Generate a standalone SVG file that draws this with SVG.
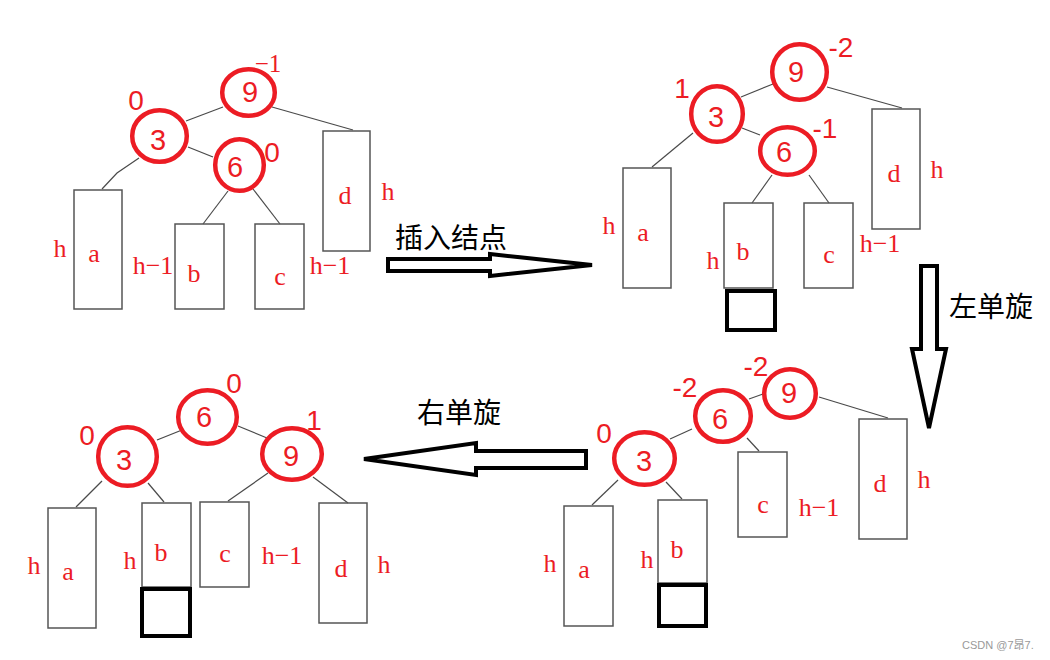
<svg xmlns="http://www.w3.org/2000/svg" width="1050" height="660" viewBox="0 0 1050 660">
<style>
.bg{fill:#ffffff}
.ring{fill:none;stroke:#ec1c24;stroke-width:4.5}
.dig{font-family:"Liberation Sans","Noto Sans",sans-serif;font-size:29px;fill:#ec1c24;text-anchor:middle}
.bf{font-family:"Liberation Sans","Noto Sans",sans-serif;font-size:28px;fill:#ec1c24;text-anchor:middle}
.bfs{font-family:"Liberation Serif",serif;font-size:25px;fill:#ec1c24;text-anchor:middle}
.box{fill:none;stroke:#555555;stroke-width:1.5}
.sq{fill:none;stroke:#000000;stroke-width:4}
.lbl{font-family:"Liberation Serif",serif;font-size:26px;fill:#ec1c24;text-anchor:middle}
.edge{fill:none;stroke:#4a4a4a;stroke-width:1.2}
.arrow{fill:#ffffff;stroke:#000000;stroke-width:4;stroke-linejoin:miter}
.cap{font-family:"Noto Sans CJK SC",sans-serif;font-size:28px;fill:#000000;text-anchor:middle}
.wm{font-family:"Liberation Sans","Noto Sans CJK SC",sans-serif;font-size:11px;fill:#999999}
</style>
<rect class="bg" x="0" y="0" width="1050" height="660"/>

<g id="connectors">
  <!-- top-left -->
  <line class="edge" x1="223" y1="107" x2="186" y2="121"/>
  <line class="edge" x1="272" y1="107" x2="353" y2="130"/>
  <line class="edge" x1="188" y1="147" x2="213" y2="157"/>
  <polyline class="edge" points="139,158 117,173 102,189"/>
  <line class="edge" x1="228" y1="191" x2="203" y2="224"/>
  <line class="edge" x1="253" y1="189" x2="280" y2="224"/>
  <!-- top-right -->
  <line class="edge" x1="773" y1="84" x2="741" y2="97"/>
  <line class="edge" x1="827" y1="87" x2="902" y2="108"/>
  <line class="edge" x1="742" y1="128" x2="760" y2="135"/>
  <line class="edge" x1="693" y1="133" x2="652" y2="167"/>
  <line class="edge" x1="772" y1="175" x2="752" y2="203"/>
  <line class="edge" x1="809" y1="175" x2="829" y2="203"/>
  <!-- bottom-right -->
  <line class="edge" x1="763" y1="394" x2="749" y2="399"/>
  <line class="edge" x1="819" y1="397" x2="888" y2="418"/>
  <line class="edge" x1="692" y1="429" x2="670" y2="439"/>
  <line class="edge" x1="747" y1="438" x2="759" y2="451"/>
  <line class="edge" x1="618" y1="480" x2="592" y2="505"/>
  <line class="edge" x1="666" y1="482" x2="682" y2="499"/>
  <!-- bottom-left -->
  <line class="edge" x1="182" y1="430" x2="157" y2="440"/>
  <line class="edge" x1="238" y1="426" x2="267" y2="438"/>
  <line class="edge" x1="102" y1="481" x2="76" y2="507"/>
  <line class="edge" x1="148" y1="483" x2="164" y2="502"/>
  <line class="edge" x1="268" y1="473" x2="228" y2="501"/>
  <line class="edge" x1="313" y1="477" x2="348" y2="503"/>
</g>

<!-- ===== Top-left tree ===== -->
<g id="tl-n9">
  <ellipse class="ring" cx="248.5" cy="92.5" rx="26.3" ry="23.3"/>
  <text class="dig" x="250" y="102">9</text>
  <text class="bfs" x="268" y="72">−1</text>
</g>
<g id="tl-n3">
  <ellipse class="ring" cx="159.5" cy="136" rx="27.3" ry="25.8"/>
  <text class="dig" x="158" y="150">3</text>
  <text class="bf" x="136" y="110">0</text>
</g>
<g id="tl-n6">
  <ellipse class="ring" cx="239.5" cy="165" rx="24.3" ry="25.8"/>
  <text class="dig" x="235" y="177">6</text>
  <text class="bf" x="272" y="162">0</text>
</g>
<g id="tl-a">
  <rect class="box" x="74" y="190" width="48" height="119"/>
  <text class="lbl" x="94" y="262">a</text>
  <text class="lbl" x="60" y="257">h</text>
  <text class="lbl" x="153" y="274">h−1</text>
</g>
<g id="tl-b">
  <rect class="box" x="175" y="224" width="49" height="85"/>
  <text class="lbl" x="194" y="282">b</text>
</g>
<g id="tl-c">
  <rect class="box" x="255" y="224" width="49" height="85"/>
  <text class="lbl" x="280" y="285">c</text>
  <text class="lbl" x="330" y="274">h−1</text>
</g>
<g id="tl-d">
  <rect class="box" x="323" y="131" width="47" height="120"/>
  <text class="lbl" x="345" y="204">d</text>
  <text class="lbl" x="388" y="200">h</text>
</g>

<!-- ===== Top-right tree ===== -->
<g id="tr-n9">
  <ellipse class="ring" cx="799.5" cy="72" rx="27.3" ry="27.8"/>
  <text class="dig" x="796" y="82">9</text>
  <text class="bf" x="841" y="57">-2</text>
</g>
<g id="tr-n3">
  <ellipse class="ring" cx="717" cy="114" rx="25.8" ry="27.8"/>
  <text class="dig" x="716" y="127">3</text>
  <text class="bf" x="682" y="98">1</text>
</g>
<g id="tr-n6">
  <ellipse class="ring" cx="787.5" cy="151" rx="27.3" ry="23.8"/>
  <text class="dig" x="784" y="162">6</text>
  <text class="bf" x="825" y="138">-1</text>
</g>
<g id="tr-a">
  <rect class="box" x="623" y="168" width="48" height="120"/>
  <text class="lbl" x="643" y="241">a</text>
  <text class="lbl" x="609" y="234">h</text>
</g>
<g id="tr-b">
  <rect class="box" x="724" y="203" width="49" height="85"/>
  <text class="lbl" x="743" y="260">b</text>
  <text class="lbl" x="713" y="269">h</text>
  <rect class="sq" x="727" y="291" width="48" height="39"/>
</g>
<g id="tr-c">
  <rect class="box" x="804" y="203" width="49" height="85"/>
  <text class="lbl" x="829" y="263">c</text>
  <text class="lbl" x="880" y="252">h−1</text>
</g>
<g id="tr-d">
  <rect class="box" x="872" y="109" width="48" height="120"/>
  <text class="lbl" x="894" y="182">d</text>
  <text class="lbl" x="937" y="178">h</text>
</g>

<!-- ===== Bottom-right tree ===== -->
<g id="br-n9">
  <ellipse class="ring" cx="790" cy="393.5" rx="25.8" ry="24.3"/>
  <text class="dig" x="789" y="403">9</text>
  <text class="bf" x="756" y="376">-2</text>
</g>
<g id="br-n6">
  <ellipse class="ring" cx="723" cy="416" rx="27.8" ry="25.8"/>
  <text class="dig" x="720" y="429">6</text>
  <text class="bf" x="685" y="397">-2</text>
</g>
<g id="br-n3">
  <ellipse class="ring" cx="644.5" cy="458.5" rx="30.3" ry="26.3"/>
  <text class="dig" x="644" y="471">3</text>
  <text class="bf" x="604" y="443">0</text>
</g>
<g id="br-a">
  <rect class="box" x="564" y="506" width="49" height="120"/>
  <text class="lbl" x="584" y="578">a</text>
  <text class="lbl" x="550" y="572">h</text>
</g>
<g id="br-b">
  <rect class="box" x="658" y="500" width="49" height="83"/>
  <text class="lbl" x="677" y="558">b</text>
  <text class="lbl" x="647" y="568">h</text>
  <rect class="sq" x="659" y="585" width="47" height="41"/>
</g>
<g id="br-c">
  <rect class="box" x="738" y="452" width="49" height="85"/>
  <text class="lbl" x="763" y="513">c</text>
  <text class="lbl" x="819" y="516">h−1</text>
</g>
<g id="br-d">
  <rect class="box" x="859" y="419" width="48" height="120"/>
  <text class="lbl" x="880" y="492">d</text>
  <text class="lbl" x="924" y="488">h</text>
</g>

<!-- ===== Bottom-left tree ===== -->
<g id="bl-n6">
  <ellipse class="ring" cx="207.5" cy="417" rx="29.3" ry="26.8"/>
  <text class="dig" x="204" y="427">6</text>
  <text class="bf" x="234" y="393">0</text>
</g>
<g id="bl-n3">
  <ellipse class="ring" cx="127.5" cy="456.5" rx="29.3" ry="29.3"/>
  <text class="dig" x="124" y="470">3</text>
  <text class="bf" x="87" y="445">0</text>
</g>
<g id="bl-n9">
  <ellipse class="ring" cx="292" cy="454" rx="29.8" ry="25.8"/>
  <text class="dig" x="291" y="466">9</text>
  <text class="bf" x="314" y="430">1</text>
</g>
<g id="bl-a">
  <rect class="box" x="48" y="508" width="48" height="120"/>
  <text class="lbl" x="68" y="580">a</text>
  <text class="lbl" x="34" y="574">h</text>
</g>
<g id="bl-b">
  <rect class="box" x="142" y="503" width="49" height="84"/>
  <text class="lbl" x="161" y="561">b</text>
  <text class="lbl" x="130" y="569">h</text>
  <rect class="sq" x="142" y="589" width="48" height="47"/>
</g>
<g id="bl-c">
  <rect class="box" x="200" y="502" width="49" height="85"/>
  <text class="lbl" x="225" y="562">c</text>
  <text class="lbl" x="282" y="564">h−1</text>
</g>
<g id="bl-d">
  <rect class="box" x="319" y="503" width="48" height="120"/>
  <text class="lbl" x="341" y="577">d</text>
  <text class="lbl" x="384" y="573">h</text>
</g>

<!-- ===== Big arrows ===== -->
<g id="arrow-insert">
  <polygon class="arrow" points="388,259 490,259 490,254 592,265 490,276 490,271 388,271"/>
  <text class="cap" x="451" y="248">插入结点</text>
</g>
<g id="arrow-left-rot">
  <polygon class="arrow" points="921,266 937,266 937,349 946,349 929,428 912,349 921,349"/>
  <text class="cap" x="991" y="317">左单旋</text>
</g>
<g id="arrow-right-rot">
  <polygon class="arrow" points="586,451 476,451 476,443 364,459 476,475 476,468 586,468"/>
  <text class="cap" x="459" y="423">右单旋</text>
</g>

<text class="wm" x="962" y="649">CSDN @7昂7.</text>
</svg>
